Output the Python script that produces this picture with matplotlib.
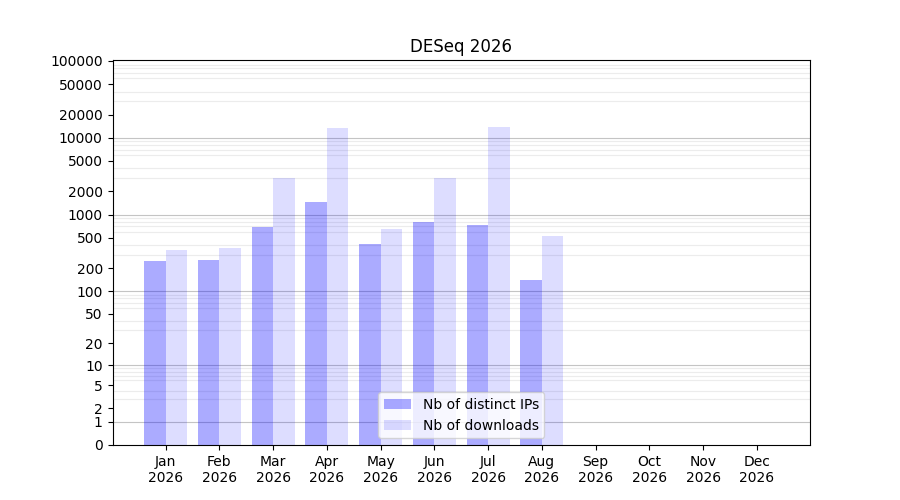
import numpy as np
import matplotlib
matplotlib.use("Agg")
import matplotlib.pyplot as plt

months = ["Jan", "Feb", "Mar", "Apr", "May", "Jun",
          "Jul", "Aug", "Sep", "Oct", "Nov", "Dec"]
year = 2026
distinct_ips = [247, 253, 686, 1456, 411, 798, 729, 138, 0, 0, 0, 0]
downloads = [343, 364, 2999, 13500, 646, 3000, 13900, 523, 0, 0, 0, 0]
ytick_values = [0, 1, 2, 5, 10, 20, 50, 100, 200, 500, 1000, 2000, 5000,
                10000, 20000, 50000, 100000]


def fwd(v):
    return np.log10(np.asarray(v, dtype=float) + 1)


def inv(v):
    return 10 ** np.asarray(v, dtype=float) - 1


fig, ax = plt.subplots(figsize=(9, 5), dpi=100)
x = np.arange(len(months))
width = 0.4

ax.bar(x - width / 2, distinct_ips, width, color="blue", alpha=0.33,
       label="Nb of distinct IPs")
ax.bar(x + width / 2, downloads, width, color="blue", alpha=0.135,
       label="Nb of downloads")

ax.set_yscale("function", functions=(fwd, inv))
ax.set_ylim(0, 103000)
ax.set_yticks(ytick_values)
ax.set_yticklabels([str(v) for v in ytick_values])

# light grid at every 1..9 x 10^k, darker at each decade
minor = [m * 10 ** k for k in range(0, 5) for m in range(2, 10)]
ax.set_yticks(minor, minor=True)
ax.tick_params(axis="y", which="minor", length=0)
ax.grid(True, axis="y", which="minor", color="#ececec", linewidth=0.8)
for dec in [1, 10, 100, 1000, 10000]:
    ax.axhline(dec, color="#c4c4c4", linewidth=0.8, zorder=0)
ax.set_axisbelow(True)

ax.set_xticks(x)
ax.set_xticklabels([f"{m}\n{year}" for m in months])
ax.set_title(f"DESeq {year}")
ax.legend(loc="lower center")

plt.savefig("out.png", dpi=100)
